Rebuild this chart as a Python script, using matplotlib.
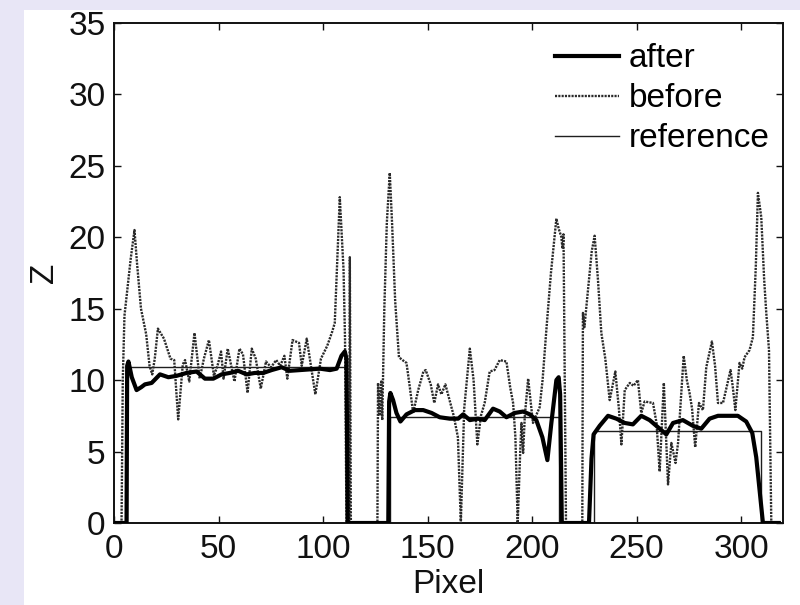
import matplotlib
matplotlib.use("Agg")
import matplotlib.pyplot as plt
from matplotlib.patches import Rectangle

# ---- data ----
after_x = [0, 6.0, 6.3, 6.9, 8.5, 10.8, 13, 14.8, 18, 22, 26, 30, 34.7, 39.5, 43.5, 47.5, 51.5,
           55.4, 59.4, 63.4, 67.4, 71.4, 75.4, 80.2, 84.1, 88.9, 93.7, 98.5, 103.3, 106.5, 108.8,
           110.4, 111.2, 111.8,
           131.2, 131.6, 132.2, 133.5, 135.1, 137, 139.9, 143.9, 147.9, 151.9, 155.8, 160.6, 164.6,
           167, 170.2, 174.1, 177.3, 181.3, 184.5, 187.7, 191.7, 195.7, 198.9, 202, 204.9, 207.3,
           209.2, 211.6, 212.7, 213.4, 214.2,
           227.2, 228.4, 229.4, 232.3, 236.3, 240.3, 244.3, 248.2, 252.2, 256.2, 260.2, 264.2,
           267.4, 272.1, 276.9, 280.9, 284.9, 288.9, 295, 298.4, 302.4, 305.3, 307.2, 310.4, 318]
after_y = [0, 0, 11.0, 11.3, 10.2, 9.3, 9.5, 9.7, 9.8, 10.4, 10.2, 10.3, 10.5, 10.6, 10.1, 10.1, 10.4,
           10.5, 10.65, 10.4, 10.5, 10.5, 10.7, 10.9, 10.65, 10.7, 10.75, 10.8, 10.7, 10.8, 11.7,
           12.0, 11.5, 0,
           0, 8.5, 9.1, 8.6, 7.7, 7.1, 7.6, 7.9, 7.9, 7.7, 7.4, 7.3, 7.3,
           7.6, 7.2, 7.3, 7.2, 8.0, 7.8, 7.4, 7.7, 7.8, 7.6, 7.2, 6.0, 4.4,
           7.0, 10.0, 10.2, 9.0, 0,
           0, 4.5, 6.2, 6.8, 7.5, 7.3, 7.0, 6.9, 7.5, 7.2, 6.7, 6.2,
           7.0, 7.2, 6.8, 6.6, 7.3, 7.5, 7.5, 7.5, 7.1, 6.3, 4.6, 0, 0]

before_x = [0, 3.6, 4.2, 5.0, 6.5, 8, 9.8, 11, 12.9, 15.4, 17, 18.3, 19.5, 21, 23.9, 27, 28.8, 30.7,
            32.9, 34, 36, 38.5, 41, 43, 45.4, 47.8, 49.5, 51.2, 52.4, 54.4, 57.6, 60, 61.7, 63.9,
            65.9, 67.8, 70.2, 72.7, 75.1, 77.6, 79.5, 81.5, 82.9, 85.4, 88.5, 89.8, 92.2, 96.3,
            99, 102, 104.4, 105.6, 108, 109.8, 110.5, 111.2, 112.5, 112.8, 113.3,
            126.0, 126.3, 127.0, 127.8, 128.3, 129.3, 130.5, 131.9, 133, 134.5, 136.3, 138,
            139.9, 141.5, 143.1, 145.5, 148, 149.1, 151.5, 153.2, 155, 156.6, 158.5, 160.5,
            162.5, 164.5, 165.9, 167.5, 170.2, 172.0, 173.8, 175.5, 177.3, 179.7, 182, 184.5,
            187.7, 189.5, 190.9, 192, 193.1, 194.3, 194.9, 195.7, 196.5, 198.1, 200.4, 203.6,
            205, 206.8, 209, 211.6, 212.7, 214, 214.5, 215, 216.2,
            224.0, 224.3, 225, 226.5, 228.5, 229.9, 231.5, 233.1, 235, 237.1, 239.8, 241.5,
            242.7, 244.3, 246.7, 248.5, 250.6, 252.2, 253.8, 257.8, 259.5, 261, 263, 265,
            266.6, 268.6, 269.8, 272.5, 274, 275.3, 276.5, 278, 279.8, 281.7, 283.3, 286,
            287.5, 288.9, 291.3, 293, 294.9, 296, 297.2, 299.2, 300.5, 301.6, 304, 305.6,
            307, 308, 309.6, 311, 312, 313.3, 314.4, 318]
before_y = [0, 0, 10, 14.5, 16.5, 18.5, 20.5, 18.2, 15.0, 13.2, 11.0, 10.4, 11.5, 13.6, 12.9, 11.5,
            11.4, 7.25, 11.1, 11.4, 9.9, 13.3, 10.1, 11.5, 12.8, 10.3, 11.0, 12.0, 10.1, 12.2,
            9.9, 12.2, 11.8, 9.1, 12.2, 11.5, 9.4, 11.3, 10.9, 11.4, 11.0, 11.7, 10.1, 12.8,
            12.6, 11.0, 12.9, 9.0, 11.5, 12.4, 13.4, 14.0, 22.8, 17.7, 12.9, 0, 0, 18.6, 0,
            0, 9.8, 7.5, 9.9, 7.2, 15, 21, 24.5, 21, 15.5, 11.6, 11.4,
            11.2, 9.5, 7.7, 9.3, 10.6, 10.7, 9.7, 8.4, 9.7, 9.0, 9.7, 8.6,
            7.5, 6.0, 0, 8.0, 12.2, 10.0, 5.5, 7.5, 8.4, 10.6, 10.7, 11.4,
            11.3, 9.5, 8.4, 6.0, 0, 5.0, 7.0, 4.9, 7.5, 10.1, 7.0, 8.1,
            10.0, 13.5, 17.5, 21.3, 20.6, 20.0, 19.2, 20.2, 0,
            0, 14.7, 13.7, 16.0, 19.0, 20.1, 17.0, 13.3, 11.5, 8.6, 10.6, 8.0,
            5.5, 9.3, 9.8, 9.6, 10.0, 7.7, 8.5, 8.4, 7.0, 3.6, 9.8, 2.7,
            5.6, 4.2, 5.6, 11.7, 10.0, 9.1, 8.0, 5.3, 8.4, 7.9, 10.9, 12.7,
            11.0, 8.4, 8.4, 9.5, 10.7, 9.5, 7.9, 11.2, 10.8, 11.6, 12.1, 13.0,
            18.0, 23.1, 21.4, 17.0, 14.7, 12.1, 0, 0]

ref_x = [0, 6.1, 6.1, 111.0, 111.0, 131.9, 131.9, 212.9, 212.9, 229.5, 229.5, 309.6, 309.6, 318]
ref_y = [0, 0, 10.9, 10.9, 0, 0, 7.45, 7.45, 0, 0, 6.45, 6.45, 0, 0]

series_labels = ["after", "before", "reference"]
x_ticks = [0, 50, 100, 150, 200, 250, 300]
y_ticks = [0, 5, 10, 15, 20, 25, 30, 35]

# ---- figure ----
plt.rcParams['font.family'] = ['Liberation Sans', 'DejaVu Sans']
fig = plt.figure(figsize=(8.0, 6.05), dpi=100, facecolor='#e8e6f6')
fig.patches.append(Rectangle((24 / 800, 0), 1, 1 - 10 / 605, transform=fig.transFigure,
                             facecolor='white', edgecolor='none', zorder=-5))

ax = fig.add_axes([114 / 800, 1 - 523 / 605, (783 - 114) / 800, (523 - 22.8) / 605])
ax.set_zorder(1)
ax.set_facecolor('white')

ax.plot(after_x, after_y, color='black', lw=3.0, label=series_labels[0], zorder=4,
        solid_joinstyle='round')
ax.plot(before_x, before_y, color='#2a2a2a', lw=1.7, linestyle=(0, (0.9, 0.5)),
        label=series_labels[1], zorder=3)
ax.plot(ref_x, ref_y, color='#1e1e1e', lw=1.0, label=series_labels[2], zorder=2)

ax.set_xlim(0, 320)
ax.set_ylim(0, 35)
ax.set_xticks(x_ticks)
ax.set_yticks(y_ticks)
ax.tick_params(direction='in', length=5, width=1.0, top=True, right=True,
               labelsize=24, colors='#111111', pad=6)
ax.tick_params(axis='x', pad=8)
for s in ax.spines.values():
    s.set_linewidth(1.4)
    s.set_color('#111111')

ax.set_xlabel('Pixel', fontsize=24, color='#111111', labelpad=3)
ax.set_ylabel('Z', fontsize=24, color='#111111', labelpad=6)

leg = ax.legend(loc='upper right', frameon=False, fontsize=24, handlelength=1.9,
                handletextpad=0.3, labelspacing=0.27, borderaxespad=0.2,
                bbox_to_anchor=(1.01, 0.999))

fig.savefig('out.png', dpi=100, facecolor=fig.get_facecolor())
